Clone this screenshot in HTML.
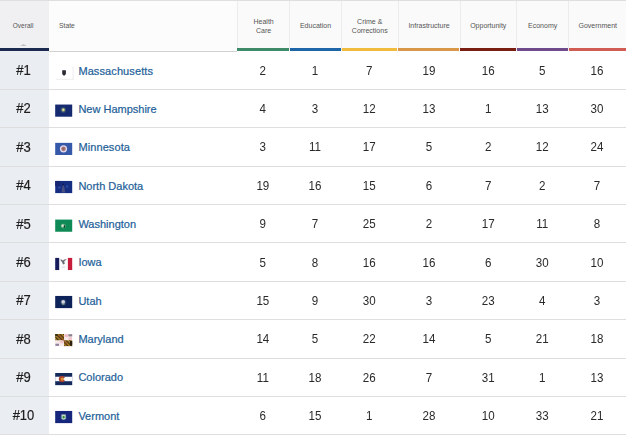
<!DOCTYPE html>
<html><head><meta charset="utf-8"><title>Best States Rankings</title>
<style>
html,body{margin:0;padding:0;background:#fff;}
body{width:628px;height:435px;overflow:hidden;position:relative;font-family:"Liberation Sans",sans-serif;}
.a{position:absolute;}
.h{position:absolute;top:2.6px;height:46px;display:flex;align-items:center;justify-content:center;text-align:center;font-size:7px;line-height:9.5px;color:#555;box-sizing:border-box;}
.h2{padding-top:1px;}
.hc{background:#fafafa;border-left:1px solid #ececec;height:49px;top:1px;padding-bottom:0.4px;}
.hc.h2{padding-bottom:0;padding-top:1.2px;}
.bar{position:absolute;top:48.1px;height:3.3px;}
.sep{position:absolute;left:0;width:626.2px;height:1px;background:#dedede;}
.rk{position:absolute;left:-1px;width:49px;text-align:center;font-size:14px;color:#1e1e1e;line-height:16px;height:16px;-webkit-text-stroke:0.2px #1e1e1e;transform:scaleX(.93);}
.nm{position:absolute;left:78.4px;font-size:11px;color:#1f5f99;line-height:14px;height:14px;white-space:nowrap;-webkit-text-stroke:0.22px #1f5f99;}
.n{position:absolute;text-align:center;font-size:12.2px;color:#2a2a2a;line-height:14px;height:14px;transform:scaleX(.95);}
svg.f{position:absolute;left:53px;width:22px;height:18px;overflow:visible;}
</style></head><body>

<svg class="a" style="width:0;height:0"><defs><filter id="bl" x="-10%" y="-10%" width="120%" height="120%"><feGaussianBlur stdDeviation="0.35"/></filter><filter id="bl2" x="-10%" y="-10%" width="120%" height="120%"><feGaussianBlur stdDeviation="0.45"/></filter></defs></svg>
<div class="a" style="left:0;top:0;width:626.2px;height:1px;background:#dfdfdf"></div>
<div class="a" style="left:0;top:1px;width:49px;height:47.5px;background:#f0f0f2"></div>
<div class="a" style="left:49px;top:1px;width:188.3px;height:49.6px;background:#fcfcfc"></div>
<div class="a" style="left:0;top:51px;width:49px;height:384px;background:#eaedf1"></div>
<div class="a" style="left:49px;top:50.6px;width:188.3px;height:1px;background:#d2d2d2"></div>
<div class="h" style="left:0px;width:49.0px;font-size:6.5px;left:-1.4px;">Overall</div>
<div class="bar" style="left:0px;width:49.0px;background:#1b2a4e"></div>
<div class="h" style="left:49px;width:188.3px;justify-content:flex-start;padding-left:10.1px;font-size:6.75px;">State</div>
<div class="h hc h2" style="left:237.3px;width:51.7px;">Health<br>Care</div>
<div class="bar" style="left:237.3px;width:51.7px;background:#3d8b68"></div>
<div class="h hc" style="left:289px;width:52.0px;">Education</div>
<div class="bar" style="left:289.8px;width:51.2px;background:#1f66a8"></div>
<div class="h hc h2" style="left:341px;width:56.5px;">Crime &amp;<br>Corrections</div>
<div class="bar" style="left:341.8px;width:55.7px;background:#f1bc3e"></div>
<div class="h hc" style="left:397.5px;width:62.0px;">Infrastructure</div>
<div class="bar" style="left:398.3px;width:61.2px;background:#d9974a"></div>
<div class="h hc" style="left:459.5px;width:56.5px;">Opportunity</div>
<div class="bar" style="left:460.3px;width:55.7px;background:#7a1e14"></div>
<div class="h hc" style="left:516px;width:52.3px;">Economy</div>
<div class="bar" style="left:516.8px;width:51.5px;background:#6f4a8a"></div>
<div class="h hc" style="left:568.3px;width:57.9px;">Government</div>
<div class="bar" style="left:569.0999999999999px;width:57.1px;background:#d05c54"></div>
<svg class="a" style="left:19.9px;top:43.5px;width:7px;height:2px" viewBox="0 0 7 2"><path d="M0 2L3.5 0L7 2z" fill="#c2c2c6"/></svg>
<div class="sep" style="top:88.88px"></div>
<div class="rk" style="top:62.04px">#1</div>
<svg class="f" style="top:64px" viewBox="0 0 22 18"><g transform="translate(2.70 2.79) scale(1 1.0125)" filter="url(#bl)"><path d="M6.500 3.300h3.700v3.200q0 1.700-1.850 2.400q-1.850-.7-1.850-2.400z" fill="#2a2a33"/><rect x="16.900" y="0" width=".9" height="12.600" fill="#ececec"/><rect x="0" y="11.900" width="17.800" height=".9" fill="#ebebeb"/></g></svg>
<div class="nm" style="top:63.69px;letter-spacing:0.1px;">Massachusetts</div>
<div class="n" style="left:237.3px;width:51.7px;top:63.74px">2</div>
<div class="n" style="left:289px;width:52.0px;top:63.74px">1</div>
<div class="n" style="left:341px;width:56.5px;top:63.74px">7</div>
<div class="n" style="left:397.5px;width:62.0px;top:63.74px">19</div>
<div class="n" style="left:459.5px;width:56.5px;top:63.74px">16</div>
<div class="n" style="left:516px;width:52.3px;top:63.74px">5</div>
<div class="n" style="left:568.3px;width:57.9px;top:63.74px">16</div>
<div class="sep" style="top:127.25px"></div>
<div class="rk" style="top:100.41px">#2</div>
<svg class="f" style="top:102px" viewBox="0 0 22 18"><g transform="translate(2.20 2.55) scale(1 1.0125)" filter="url(#bl)"><rect width="17" height="12" fill="#14296f"/><circle cx="8.1" cy="5.4" r="2.9" fill="#2f4a74"/><circle cx="8.1" cy="5.3" r="1.800" fill="#8f9a6a"/><circle cx="8.1" cy="5.2" r="1.050" fill="#e2e0a0"/></g></svg>
<div class="nm" style="top:102.00px;">New Hampshire</div>
<div class="n" style="left:237.3px;width:51.7px;top:102.11px">4</div>
<div class="n" style="left:289px;width:52.0px;top:102.11px">3</div>
<div class="n" style="left:341px;width:56.5px;top:102.11px">12</div>
<div class="n" style="left:397.5px;width:62.0px;top:102.11px">13</div>
<div class="n" style="left:459.5px;width:56.5px;top:102.11px">1</div>
<div class="n" style="left:516px;width:52.3px;top:102.11px">13</div>
<div class="n" style="left:568.3px;width:57.9px;top:102.11px">30</div>
<div class="sep" style="top:165.62px"></div>
<div class="rk" style="top:138.79px">#3</div>
<svg class="f" style="top:140px" viewBox="0 0 22 18"><g transform="translate(2.20 2.85) scale(1 1.0125)" filter="url(#bl)"><rect width="17" height="12" fill="#3558a8"/><circle cx="8.3" cy="5.9" r="3.6" fill="#e2dcec"/><circle cx="8.3" cy="5.9" r="2.3" fill="#a8747e"/><circle cx="8.3" cy="5.9" r="1.1" fill="#8a6a5a"/></g></svg>
<div class="nm" style="top:140.32px;letter-spacing:0.1px;">Minnesota</div>
<div class="n" style="left:237.3px;width:51.7px;top:140.49px">3</div>
<div class="n" style="left:289px;width:52.0px;top:140.49px">11</div>
<div class="n" style="left:341px;width:56.5px;top:140.49px">17</div>
<div class="n" style="left:397.5px;width:62.0px;top:140.49px">5</div>
<div class="n" style="left:459.5px;width:56.5px;top:140.49px">2</div>
<div class="n" style="left:516px;width:52.3px;top:140.49px">12</div>
<div class="n" style="left:568.3px;width:57.9px;top:140.49px">24</div>
<div class="sep" style="top:204.00px"></div>
<div class="rk" style="top:177.16px">#4</div>
<svg class="f" style="top:178px" viewBox="0 0 22 18"><g transform="translate(2.20 2.95) scale(1 1.0125)" filter="url(#bl)"><rect width="17" height="12" fill="#172f82"/><rect x="0" y="0" width="5" height="5" fill="#132772"/><path d="M8.100 3.300l1 3l.9 5.200h-3.800l.9-5.200z" fill="#585a80" opacity=".8"/><circle cx="8.100" cy="3.400" r=".9" fill="#0c1a4a"/><circle cx="4.200" cy="6.500" r="1.200" fill="#2a4aa0"/><circle cx="12" cy="5.500" r="1.200" fill="#2a4aa0"/></g></svg>
<div class="nm" style="top:178.63px;">North Dakota</div>
<div class="n" style="left:237.3px;width:51.7px;top:178.86px">19</div>
<div class="n" style="left:289px;width:52.0px;top:178.86px">16</div>
<div class="n" style="left:341px;width:56.5px;top:178.86px">15</div>
<div class="n" style="left:397.5px;width:62.0px;top:178.86px">6</div>
<div class="n" style="left:459.5px;width:56.5px;top:178.86px">7</div>
<div class="n" style="left:516px;width:52.3px;top:178.86px">2</div>
<div class="n" style="left:568.3px;width:57.9px;top:178.86px">7</div>
<div class="sep" style="top:242.38px"></div>
<div class="rk" style="top:215.54px">#5</div>
<svg class="f" style="top:217px" viewBox="0 0 22 18"><g transform="translate(2.20 2.60) scale(1 1.0125)" filter="url(#bl)"><rect width="17" height="12" fill="#108a54"/><circle cx="8.300" cy="6.300" r="2.500" fill="#3f9c70"/><circle cx="7.600" cy="6.100" r="1.550" fill="#cfe0cc"/><ellipse cx="9.200" cy="6.900" rx=".7" ry="1.400" fill="#123a28"/></g></svg>
<div class="nm" style="top:216.95px;">Washington</div>
<div class="n" style="left:237.3px;width:51.7px;top:217.24px">9</div>
<div class="n" style="left:289px;width:52.0px;top:217.24px">7</div>
<div class="n" style="left:341px;width:56.5px;top:217.24px">25</div>
<div class="n" style="left:397.5px;width:62.0px;top:217.24px">2</div>
<div class="n" style="left:459.5px;width:56.5px;top:217.24px">17</div>
<div class="n" style="left:516px;width:52.3px;top:217.24px">11</div>
<div class="n" style="left:568.3px;width:57.9px;top:217.24px">8</div>
<div class="sep" style="top:280.75px"></div>
<div class="rk" style="top:253.91px">#6</div>
<svg class="f" style="top:255px" viewBox="0 0 22 18"><g transform="translate(2.20 2.90) scale(1 1.0125)" filter="url(#bl)"><rect width="17" height="12" fill="#fbfbfd"/><rect width="4" height="12" fill="#171c5a"/><rect x="12.700" width="4.300" height="12" fill="#c81f3c"/><path d="M5.200 1.300q1.500.2 2.500 1.200q1.500-1.200 3.800-1.300q-.8 1.600-2.500 2.200l.6 2.400l-1.800.6l-1-2.400q-1.600-1.200-1.600-2.700z" fill="#6a6a74"/><rect x="6.600" y="8.600" width="3.400" height=".8" fill="#d0d0d8"/></g></svg>
<div class="nm" style="top:255.26px;">Iowa</div>
<div class="n" style="left:237.3px;width:51.7px;top:255.61px">5</div>
<div class="n" style="left:289px;width:52.0px;top:255.61px">8</div>
<div class="n" style="left:341px;width:56.5px;top:255.61px">16</div>
<div class="n" style="left:397.5px;width:62.0px;top:255.61px">16</div>
<div class="n" style="left:459.5px;width:56.5px;top:255.61px">6</div>
<div class="n" style="left:516px;width:52.3px;top:255.61px">30</div>
<div class="n" style="left:568.3px;width:57.9px;top:255.61px">10</div>
<div class="sep" style="top:319.12px"></div>
<div class="rk" style="top:292.29px">#7</div>
<svg class="f" style="top:293px" viewBox="0 0 22 18"><g transform="translate(2.20 2.95) scale(1 1.0125)" filter="url(#bl)"><rect width="17" height="12" fill="#0f2459"/><circle cx="8.100" cy="6.200" r="3" fill="#263e6e"/><circle cx="8" cy="6" r="1.900" fill="#d2d5da"/><rect x="6.900" y="7.600" width="2.400" height="1.400" fill="#6a8a78"/></g></svg>
<div class="nm" style="top:293.58px;">Utah</div>
<div class="n" style="left:237.3px;width:51.7px;top:293.99px">15</div>
<div class="n" style="left:289px;width:52.0px;top:293.99px">9</div>
<div class="n" style="left:341px;width:56.5px;top:293.99px">30</div>
<div class="n" style="left:397.5px;width:62.0px;top:293.99px">3</div>
<div class="n" style="left:459.5px;width:56.5px;top:293.99px">23</div>
<div class="n" style="left:516px;width:52.3px;top:293.99px">4</div>
<div class="n" style="left:568.3px;width:57.9px;top:293.99px">3</div>
<div class="sep" style="top:357.50px"></div>
<div class="rk" style="top:330.66px">#8</div>
<svg class="f" style="top:332px" viewBox="0 0 22 18"><g transform="translate(2.20 2.00) scale(1 1.0125)" filter="url(#bl)"><defs><pattern id="mdp" width="2.600" height="2.600" patternUnits="userSpaceOnUse" patternTransform="rotate(-45)"><rect width="2.600" height="2.600" fill="#b88a2c"/><rect width="1.200" height="2.600" fill="#3a2810"/></pattern></defs><g filter="url(#bl2)"><rect width="17" height="12" fill="#f7e9ea"/><rect width="8.800" height="6.200" fill="url(#mdp)"/><rect x="8.800" y="6.200" width="8.200" height="5.800" fill="url(#mdp)"/><rect x="0" y="0" width="2.500" height="2" fill="#3a3010"/><rect x="14.800" y="7" width="2.200" height="4.500" fill="#2a200c"/><path d="M3 1.500l2-0.500l8 9l-2 0.500z" fill="#8a4a20" opacity=".55"/><rect x="9.400" y=".4" width="3.200" height="2.400" fill="#f0b8c0"/><rect x="13.200" y=".2" width="3.800" height="2.200" fill="#8a8092"/><rect x="13.400" y="3.200" width="3.400" height="2.600" fill="#f2c4c8"/><rect x=".2" y="9.600" width="3.600" height="2.100" fill="#8f80a0"/><rect x="4.600" y="6.600" width="3.800" height="2.500" fill="#f2c6ca"/></g></g></svg>
<div class="nm" style="top:331.89px;">Maryland</div>
<div class="n" style="left:237.3px;width:51.7px;top:332.36px">14</div>
<div class="n" style="left:289px;width:52.0px;top:332.36px">5</div>
<div class="n" style="left:341px;width:56.5px;top:332.36px">22</div>
<div class="n" style="left:397.5px;width:62.0px;top:332.36px">14</div>
<div class="n" style="left:459.5px;width:56.5px;top:332.36px">5</div>
<div class="n" style="left:516px;width:52.3px;top:332.36px">21</div>
<div class="n" style="left:568.3px;width:57.9px;top:332.36px">18</div>
<div class="sep" style="top:395.88px"></div>
<div class="rk" style="top:369.04px">#9</div>
<svg class="f" style="top:371px" viewBox="0 0 22 18"><g transform="translate(2.20 2.00) scale(1 1.0125)" filter="url(#bl)"><rect width="17" height="12" fill="#152a5c"/><rect y="3.700" width="17" height="4.400" fill="#fbfbfd"/><circle cx="6.700" cy="6" r="3.100" fill="#a8402c"/><circle cx="7" cy="6" r="1.600" fill="#dc9436"/><rect x="8.500" y="5" width="2.400" height="2" fill="#fbfbfd"/></g></svg>
<div class="nm" style="top:370.21px;">Colorado</div>
<div class="n" style="left:237.3px;width:51.7px;top:370.74px">11</div>
<div class="n" style="left:289px;width:52.0px;top:370.74px">18</div>
<div class="n" style="left:341px;width:56.5px;top:370.74px">26</div>
<div class="n" style="left:397.5px;width:62.0px;top:370.74px">7</div>
<div class="n" style="left:459.5px;width:56.5px;top:370.74px">31</div>
<div class="n" style="left:516px;width:52.3px;top:370.74px">1</div>
<div class="n" style="left:568.3px;width:57.9px;top:370.74px">13</div>
<div class="sep" style="top:434.25px"></div>
<div class="rk" style="top:407.41px">#10</div>
<svg class="f" style="top:408px" viewBox="0 0 22 18"><g transform="translate(2.20 2.95) scale(1 1.0125)" filter="url(#bl)"><rect width="17" height="12" fill="#13257c"/><circle cx="8.400" cy="6.100" r="3.300" fill="#1f3a86"/><path d="M6.300 3.600h4.200v3.600q-2.100 3.200-4.200 0z" fill="#c4d8c0"/><circle cx="8.400" cy="6.200" r="1.150" fill="#2f8a3a"/></g></svg>
<div class="nm" style="top:408.52px;">Vermont</div>
<div class="n" style="left:237.3px;width:51.7px;top:409.11px">6</div>
<div class="n" style="left:289px;width:52.0px;top:409.11px">15</div>
<div class="n" style="left:341px;width:56.5px;top:409.11px">1</div>
<div class="n" style="left:397.5px;width:62.0px;top:409.11px">28</div>
<div class="n" style="left:459.5px;width:56.5px;top:409.11px">10</div>
<div class="n" style="left:516px;width:52.3px;top:409.11px">33</div>
<div class="n" style="left:568.3px;width:57.9px;top:409.11px">21</div>
</body></html>
